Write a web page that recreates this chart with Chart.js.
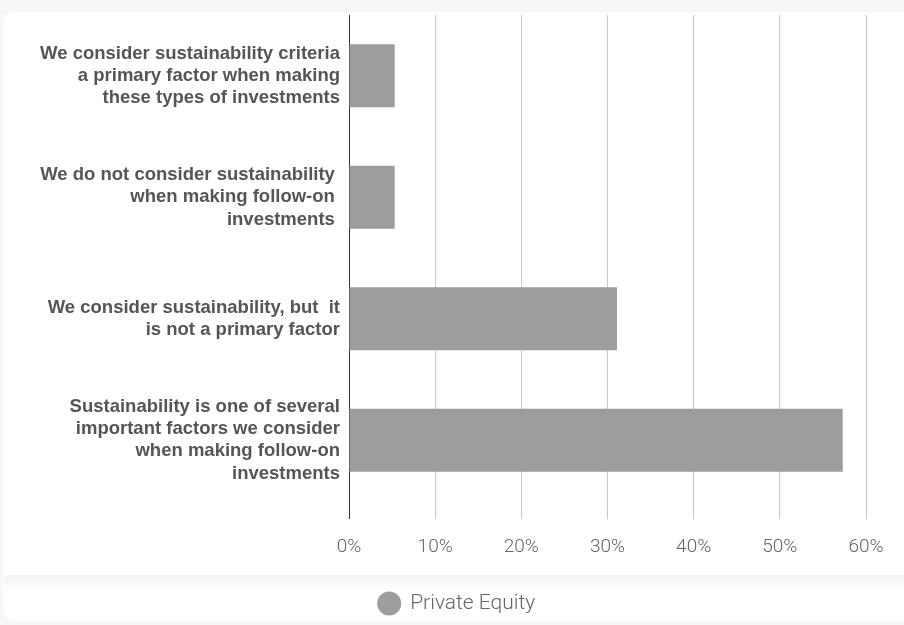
<!DOCTYPE html>
<html>
<head>
<meta charset="utf-8">
<script src="https://cdn.jsdelivr.net/npm/chart.js@4"></script>
<style>
  html, body { margin: 0; padding: 0; }
  body { width: 904px; height: 625px; background: #f7f7f7; position: relative; overflow: hidden; }
  .card { position: absolute; left: 3px; top: 12px; right: -12px; bottom: 4px; background: #fff; border-radius: 10px; }
  .faixa { position: absolute; left: 4px; right: 0; top: 575px; height: 16px; background: linear-gradient(#f3f3f3, #fff); }
  .wrap { position: absolute; left: 0; top: 0; width: 904px; height: 625px; }
</style>
</head>
<body>
<div class="card"></div>
<div class="faixa"></div>
<div class="wrap"><canvas id="grafico"></canvas></div>
<script>
// categorias (rótulos do eixo y, uma linha por item)
const categorias = [
  ['We consider sustainability criteria', 'a primary factor when making', 'these types of investments'],
  ['We do not consider sustainability ', 'when making follow-on ', 'investments '],
  ['We consider sustainability, but  it', 'is not a primary factor'],
  ['Sustainability is one of several', 'important factors we consider', 'when making follow-on', 'investments']
];
// percentuais de Private Equity
const privateEquity = [5.3, 5.3, 31.1, 57.3];
const serieNome = 'Private Equity';
const eixoMax = 60;
const eixoPasso = 10;

const cinzaBarra = '#9d9d9c';

const ctx = document.getElementById('grafico').getContext('2d');
const grafico = new Chart(ctx, {
  type: 'bar',
  data: {
    labels: categorias,
    datasets: [{
      label: serieNome,
      data: privateEquity,
      backgroundColor: cinzaBarra,
      borderWidth: 0,
      categoryPercentage: 0.8,
      barPercentage: 0.65
    }]
  },
  options: {
    indexAxis: 'y',
    responsive: true,
    maintainAspectRatio: false,
    animation: false,
    // padding esquerdo só para centralizar a legenda um pouco mais à direita
    layout: { padding: { top: 15, right: 0, left: 10, bottom: 1 } },
    scales: {
      x: {
        min: 0,
        max: eixoMax,
        border: { display: false },
        grid: {
          color: c => c.index === 0 ? '#333' : '#c8c8c8',
          lineWidth: 1,
          tickLength: 18
        },
        ticks: {
          stepSize: eixoPasso,
          padding: 17,
          color: '#666',
          font: { family: 'Roboto', weight: 300, size: 19 },
          callback: v => v + '%'
        },
        afterFit: escala => {
          escala.height = 82;
          escala.paddingRight = 38;
          escala.paddingLeft = 0;
        }
      },
      y: {
        border: { display: false },
        grid: { display: false, drawTicks: false },
        ticks: {
          padding: 9,
          color: '#555',
          font: { family: '"Liberation Sans", Arial, sans-serif', weight: 'bold', size: 18.5, lineHeight: 1.2 }
        },
        afterFit: escala => {
          escala.width = 339;
          escala.paddingTop = 0;
          escala.paddingBottom = 0;
        }
      }
    },
    plugins: {
      tooltip: { enabled: false },
      legend: {
        position: 'bottom',
        labels: {
          usePointStyle: true,
          pointStyle: 'circle',
          boxHeight: 17,
          color: '#666',
          font: { family: 'Roboto', weight: 300, size: 21 },
          padding: 10
        }
      }
    }
  }
});
</script>
</body>
</html>
